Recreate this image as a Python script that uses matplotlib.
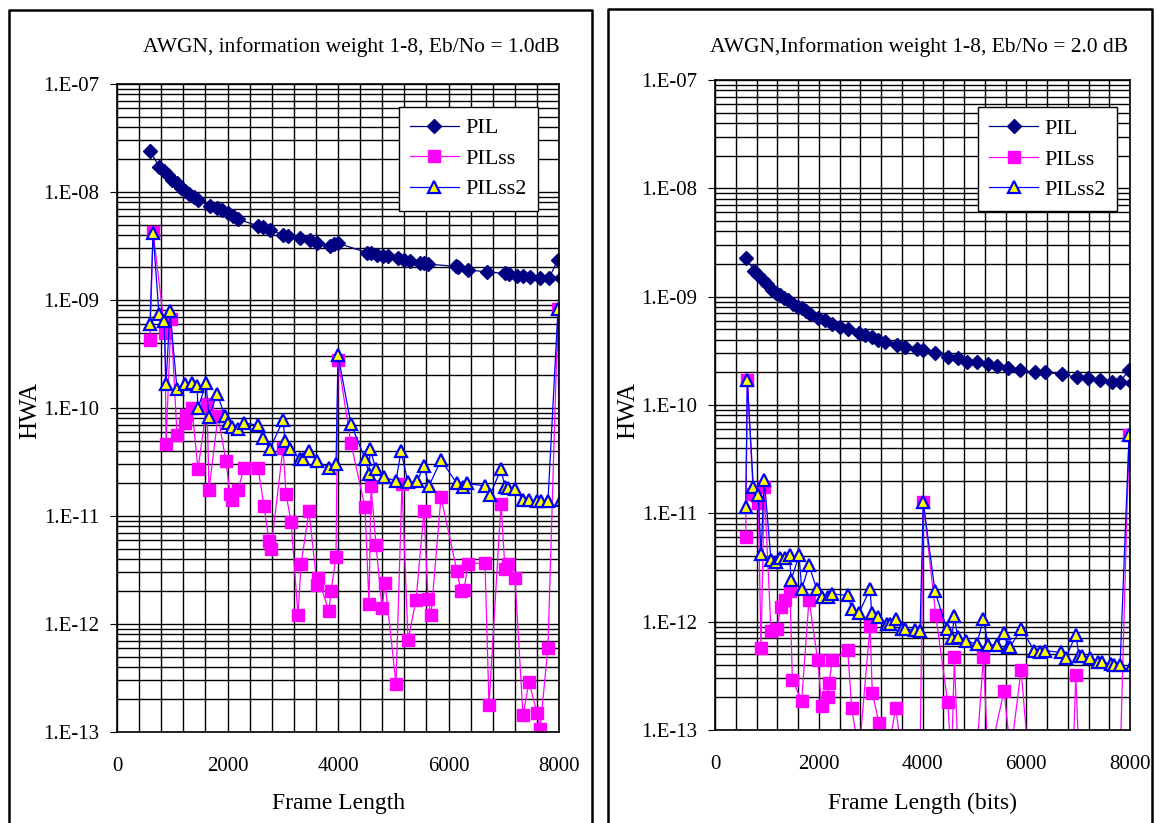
import matplotlib
matplotlib.use("Agg")
import matplotlib.pyplot as plt
import matplotlib.ticker as mticker
from matplotlib.lines import Line2D
import numpy as np

plt.rcParams['font.family'] = ['Liberation Serif', 'DejaVu Serif']

# ---- left chart: Eb/No = 1.0 dB ----
pil1_x = [597, 762, 850, 925, 1000, 1086, 1160, 1231, 1300, 1400, 1466, 1683, 1810, 1900,
          2010, 2100, 2190, 2552, 2650, 2770, 3005, 3100, 3312, 3493, 3620, 3855, 3930,
          4000, 4525, 4600, 4706, 4815, 4900, 5086, 5200, 5303, 5484, 5560, 5629, 6130,
          6172, 6353, 6697, 7023, 7100, 7240, 7350, 7475, 7656, 7820, 7982, 8030]
pil1_y = [2.4e-8, 1.72e-8, 1.55e-8, 1.43e-8, 1.3e-8, 1.21e-8, 1.1e-8, 1.02e-8, 9.6e-9,
          8.9e-9, 8.4e-9, 7.4e-9, 7.1e-9, 6.8e-9, 6.4e-9, 6.0e-9, 5.6e-9, 4.85e-9, 4.7e-9,
          4.47e-9, 4.0e-9, 3.9e-9, 3.76e-9, 3.6e-9, 3.39e-9, 3.18e-9, 3.3e-9, 3.35e-9,
          2.75e-9, 2.7e-9, 2.6e-9, 2.56e-9, 2.55e-9, 2.45e-9, 2.35e-9, 2.3e-9, 2.2e-9,
          2.18e-9, 2.15e-9, 2.05e-9, 2.0e-9, 1.9e-9, 1.82e-9, 1.76e-9, 1.74e-9, 1.68e-9,
          1.66e-9, 1.64e-9, 1.6e-9, 1.6e-9, 2.36e-9, 1.6e-9]

pilss1_x = [597, 653, 869, 887, 977, 1086, 1231, 1249, 1357, 1466, 1629, 1665, 1828, 1973,
            2045, 2081, 2190, 2299, 2552, 2661, 2751, 2788, 3005, 3059, 3150, 3276, 3331,
            3475, 3620, 3638, 3837, 3873, 3964, 4000, 4235, 4489, 4561, 4598, 4688, 4797,
            4851, 5050, 5158, 5267, 5412, 5557, 5629, 5683, 5864, 6153, 6226, 6280, 6353,
            6661, 6733, 6950, 7023, 7077, 7204, 7349, 7457, 7602, 7656, 7800, 7982, 8030]
pilss1_y = [4.3e-10, 4.3e-9, 5.0e-10, 4.6e-11, 6.6e-10, 5.6e-11, 7.2e-11, 8.6e-11, 1.0e-10,
            2.7e-11, 1.1e-10, 1.74e-11, 8.4e-11, 3.2e-11, 1.6e-11, 1.4e-11, 1.74e-11,
            2.8e-11, 2.8e-11, 1.24e-11, 5.9e-12, 5.0e-12, 4.3e-11, 1.6e-11, 8.85e-12,
            1.21e-12, 3.56e-12, 1.12e-11, 2.3e-12, 2.65e-12, 1.32e-12, 2.0e-12, 4.2e-12,
            2.8e-10, 4.7e-11, 1.2e-11, 1.53e-12, 1.9e-11, 5.4e-12, 1.4e-12, 2.4e-12, 2.8e-13,
            1.97e-11, 7.1e-13, 1.66e-12, 1.12e-11, 1.7e-12, 1.2e-12, 1.5e-11, 3.1e-12,
            2.0e-12, 2.05e-12, 3.6e-12, 3.7e-12, 1.76e-13, 1.3e-11, 3.2e-12, 3.6e-12,
            2.65e-12, 1.43e-13, 2.9e-13, 1.5e-13, 1.06e-13, 6.0e-13, 8.2e-10, 5e-14]

pilss2_1_x = [597, 652, 760, 851, 887, 959, 1086, 1231, 1357, 1448, 1466, 1611, 1665, 1810,
              1955, 2010, 2081, 2190, 2299, 2552, 2643, 2770, 3005, 3041, 3131, 3312, 3367,
              3475, 3620, 3837, 3964, 4000, 4235, 4489, 4561, 4580, 4688, 4833, 5050, 5140,
              5267, 5430, 5557, 5647, 5864, 6153, 6262, 6335, 6661, 6751, 6950, 7023, 7077,
              7204, 7349, 7457, 7602, 7674, 7800, 7982, 8030]
pilss2_1_y = [6.0e-10, 4.2e-9, 7.4e-10, 6.4e-10, 1.68e-10, 7.9e-10, 1.5e-10, 1.68e-10,
              1.7e-10, 1.6e-10, 9.9e-11, 1.7e-10, 8.3e-11, 1.36e-10, 8.4e-11, 7.2e-11,
              6.6e-11, 6.4e-11, 7.3e-11, 6.9e-11, 5.25e-11, 4.2e-11, 7.7e-11, 5.0e-11,
              4.2e-11, 3.36e-11, 3.4e-11, 4.0e-11, 3.2e-11, 2.8e-11, 3.0e-11, 3.1e-10,
              7.1e-11, 3.4e-11, 2.45e-11, 4.2e-11, 2.7e-11, 2.3e-11, 2.1e-11, 4.0e-11,
              2.05e-11, 2.1e-11, 2.9e-11, 1.9e-11, 3.3e-11, 2.0e-11, 1.85e-11, 2.0e-11,
              1.9e-11, 1.57e-11, 2.7e-11, 1.85e-11, 1.8e-11, 1.76e-11, 1.41e-11, 1.41e-11,
              1.38e-11, 1.38e-11, 1.38e-11, 8.2e-10, 1.4e-11]

# ---- right chart: Eb/No = 2.0 dB ----
pil2_x = [598, 758, 835, 931, 1000, 1093, 1180, 1253, 1330, 1414, 1510, 1600, 1671, 1750,
          1832, 1992, 2121, 2250, 2400, 2570, 2776, 2900, 3021, 3150, 3278, 3503, 3663,
          3889, 4016, 4241, 4498, 4691, 4852, 5045, 5269, 5431, 5655, 5880, 6169, 6362,
          6684, 6973, 7198, 7423, 7648, 7809, 7982, 8030]
pil2_y = [2.26e-9, 1.73e-9, 1.6e-9, 1.42e-9, 1.3e-9, 1.15e-9, 1.08e-9, 1.03e-9, 9.7e-10,
          9.3e-10, 8.5e-10, 8.1e-10, 7.8e-10, 7.3e-10, 6.9e-10, 6.4e-10, 6.1e-10, 5.6e-10,
          5.3e-10, 5.0e-10, 4.6e-10, 4.4e-10, 4.2e-10, 4.0e-10, 3.84e-10, 3.6e-10, 3.45e-10,
          3.26e-10, 3.2e-10, 3.0e-10, 2.8e-10, 2.7e-10, 2.5e-10, 2.5e-10, 2.37e-10, 2.3e-10,
          2.18e-10, 2.1e-10, 2.0e-10, 2.0e-10, 1.93e-10, 1.8e-10, 1.77e-10, 1.7e-10,
          1.64e-10, 1.64e-10, 2.1e-10, 1.6e-10]

pilss2_x = [592, 623, 738, 835, 887, 950, 1080, 1189, 1272, 1350, 1446, 1491, 1671, 1812,
            1980, 2057, 2172, 2198, 2262, 2558, 2635, 2776, 2988, 3033, 3162, 3300, 3484,
            3600, 3952, 4016, 4255, 4486, 4560, 4614, 4690, 5045, 5173, 5269, 5571, 5700,
            5900, 6050, 6900, 6955, 7018, 7809, 7982, 8030]
pilss2_y = [6.0e-12, 1.7e-10, 1.5e-11, 1.24e-11, 5.7e-13, 1.76e-11, 8.2e-13, 8.6e-13,
            1.37e-12, 1.6e-12, 1.9e-12, 2.9e-13, 1.86e-13, 1.6e-12, 4.4e-13, 1.66e-13,
            2.0e-13, 2.7e-13, 4.4e-13, 5.5e-13, 1.6e-13, 6e-14, 9.1e-13, 2.2e-13, 1.16e-13,
            5e-14, 1.6e-13, 6e-14, 5e-14, 1.26e-11, 1.15e-12, 1.8e-13, 5e-14, 4.7e-13, 5e-14,
            6e-14, 4.7e-13, 5e-14, 2.3e-13, 6e-14, 3.6e-13, 5e-14, 5e-14, 3.2e-13, 5e-14,
            5e-14, 5.3e-11, 5e-14]

pilss2_2_x = [592, 623, 738, 835, 887, 950, 1080, 1176, 1253, 1350, 1440, 1465, 1620, 1671,
              1812, 1960, 2057, 2185, 2262, 2558, 2635, 2776, 2988, 3021, 3149, 3310, 3374,
              3484, 3600, 3663, 3856, 3952, 4016, 4241, 4467, 4563, 4614, 4679, 4833, 5045,
              5173, 5269, 5431, 5571, 5655, 5688, 5900, 6156, 6266, 6362, 6671, 6762, 6955,
              7018, 7082, 7230, 7378, 7468, 7635, 7699, 7809, 7982, 8030]
pilss2_2_y = [1.15e-11, 1.7e-10, 1.76e-11, 1.47e-11, 4.2e-12, 2.05e-11, 3.7e-12, 3.57e-12,
              3.9e-12, 3.9e-12, 4.1e-12, 2.4e-12, 4.1e-12, 2.0e-12, 3.3e-12, 2.0e-12, 1.7e-12,
              1.7e-12, 1.8e-12, 1.75e-12, 1.32e-12, 1.2e-12, 2.0e-12, 1.2e-12, 1.1e-12,
              9.6e-13, 9.6e-13, 1.05e-12, 8.6e-13, 8.6e-13, 8.3e-13, 8.2e-13, 1.26e-11,
              1.9e-12, 8.6e-13, 7.0e-13, 1.12e-12, 7.2e-13, 6.65e-13, 6.2e-13, 1.05e-12,
              6.1e-13, 6.1e-13, 7.8e-13, 5.8e-13, 5.8e-13, 8.6e-13, 5.4e-13, 5.3e-13, 5.4e-13,
              5.2e-13, 4.6e-13, 7.6e-13, 4.8e-13, 4.8e-13, 4.6e-13, 4.2e-13, 4.2e-13, 4.1e-13,
              4.0e-13, 4.0e-13, 5.3e-11, 4.0e-13]

series_names = ['PIL', 'PILss', 'PILss2']
x_ticks = [0, 2000, 4000, 6000, 8000]
y_ticks = [1e-13, 1e-12, 1e-11, 1e-10, 1e-9, 1e-8, 1e-7]
y_labels = ['1.E-13', '1.E-12', '1.E-11', '1.E-10', '1.E-09', '1.E-08', '1.E-07']

fig = plt.figure(figsize=(11.59, 8.23), dpi=100)
fig.set_facecolor('white')

# panel frames
W, H = 1159, 823
for x0, x1, y0 in [(9, 592, 10), (608, 1152, 9)]:
    xs = [x0 / W, x0 / W, x1 / W, x1 / W]
    ys = [0, 1 - y0 / H, 1 - y0 / H, 0]
    fig.add_artist(Line2D(xs, ys, color='black', lw=1.8, transform=fig.transFigure))


def draw(ax, px, py, sx, sy, tx, ty):
    ax.plot(px, py, color='#000080', lw=0.9, marker='D', ms=7.5,
            mfc='#000080', mec='#000080', label=series_names[0])
    ax.plot(sx, sy, color='#ff00ff', lw=0.9, marker='s', ms=9,
            mfc='#ff00ff', mec='#ff00ff', label=series_names[1])
    ax.plot(tx, ty, color='#0000ff', lw=0.9, marker='^', ms=9, mew=1.6,
            mfc='#ffff00', mec='#0000ff', label=series_names[2])
    ax.set_yscale('log')
    ax.set_xlim(0, 8000)
    ax.set_ylim(1e-13, 1e-7)
    ax.set_xticks(x_ticks)
    ax.xaxis.set_minor_locator(mticker.MultipleLocator(400))
    ax.yaxis.set_major_locator(mticker.FixedLocator(y_ticks))
    ax.yaxis.set_major_formatter(mticker.FixedFormatter(y_labels))
    ax.yaxis.set_minor_locator(mticker.LogLocator(base=10, subs=np.arange(2, 10), numticks=20))
    ax.yaxis.set_minor_formatter(mticker.NullFormatter())
    ax.grid(True, which='both', color='black', lw=1.0)
    ax.set_axisbelow(True)
    ax.tick_params(axis='x', which='major', length=0, pad=18, labelsize=15)
    ax.tick_params(axis='y', which='major', length=5, pad=8, labelsize=15)
    ax.tick_params(which='minor', length=0)
    for s in ax.spines.values():
        s.set_color('black')
        s.set_linewidth(1.2)


ax1 = fig.add_axes([117 / W, 1 - 732 / H, 442 / W, 648 / H])
draw(ax1, pil1_x, pil1_y, pilss1_x, pilss1_y, pilss2_1_x, pilss2_1_y)
ax2 = fig.add_axes([715 / W, 1 - 730 / H, 415 / W, 650 / H])
draw(ax2, pil2_x, pil2_y, pilss2_x, pilss2_y, pilss2_2_x, pilss2_2_y)

for ax, anchor in [(ax1, (0.952, 0.965)), (ax2, (0.969, 0.958))]:
    leg = ax.legend(loc='upper right', bbox_to_anchor=anchor, fontsize=16, fancybox=False,
                    framealpha=1, edgecolor='black', borderpad=0.5, labelspacing=0.45,
                    handlelength=2.2, handletextpad=0.3, borderaxespad=0)
    leg.get_frame().set_linewidth(1.0)

fig.text(351 / W, 1 - 47 / H, 'AWGN, information weight 1-8, Eb/No = 1.0dB',
         ha='center', va='center', fontsize=15.5)
fig.text(919 / W, 1 - 47 / H, 'AWGN,Information weight 1-8, Eb/No = 2.0 dB',
         ha='center', va='center', fontsize=15.5)
fig.text(30 / W, 1 - 410 / H, 'HWA', rotation=90, ha='center', va='center', fontsize=18)
fig.text(628 / W, 1 - 410 / H, 'HWA', rotation=90, ha='center', va='center', fontsize=18)
fig.text(339 / W, 1 - 803 / H, 'Frame Length', ha='center', va='center', fontsize=17)
fig.text(922 / W, 1 - 803 / H, 'Frame Length (bits)', ha='center', va='center', fontsize=17)

fig.savefig('out.png', dpi=100)
